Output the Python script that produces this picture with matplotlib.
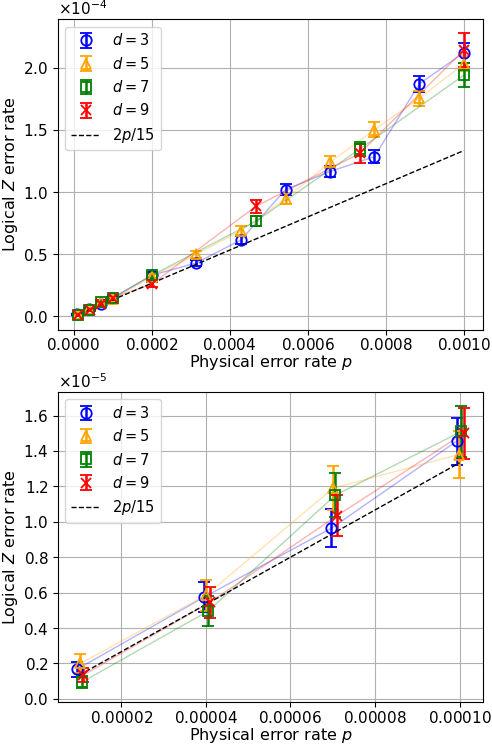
import matplotlib
matplotlib.use("Agg")
import matplotlib.pyplot as plt
import numpy as np

plt.rcParams['axes.formatter.use_mathtext'] = True
plt.rcParams['font.size'] = 11

# low-p points (slightly dodged in p per code distance)
p_low_3 = [0.96e-5, 3.96e-5, 6.97e-5, 9.93e-5]
p_low_5 = [1.03e-5, 4.00e-5, 7.01e-5, 9.98e-5]
p_low_7 = [1.07e-5, 4.05e-5, 7.06e-5, 10.04e-5]
p_low_9 = [1.10e-5, 4.10e-5, 7.10e-5, 10.10e-5]

y_low_3 = [0.168e-5, 0.575e-5, 0.964e-5, 1.455e-5]
e_low_3 = [0.042e-5, 0.083e-5, 0.109e-5, 0.133e-5]
y_low_5 = [0.200e-5, 0.585e-5, 1.190e-5, 1.380e-5]
e_low_5 = [0.054e-5, 0.087e-5, 0.125e-5, 0.130e-5]
y_low_7 = [0.095e-5, 0.495e-5, 1.150e-5, 1.510e-5]
e_low_7 = [0.035e-5, 0.085e-5, 0.125e-5, 0.144e-5]
y_low_9 = [0.134e-5, 0.546e-5, 1.034e-5, 1.500e-5]
e_low_9 = [0.040e-5, 0.088e-5, 0.115e-5, 0.143e-5]

# high-p points
p_high_35 = [2.0e-4, 3.14e-4, 4.29e-4, 5.43e-4, 6.57e-4, 7.71e-4, 8.86e-4, 1.0e-3]
p_high_79 = [2.0e-4, 4.67e-4, 7.33e-4, 1.0e-3]

y_high_3 = [0.33e-4, 0.43e-4, 0.615e-4, 1.02e-4, 1.165e-4, 1.285e-4, 1.87e-4, 2.12e-4]
e_high_3 = [0.02e-4, 0.025e-4, 0.03e-4, 0.045e-4, 0.045e-4, 0.05e-4, 0.065e-4, 0.08e-4]
y_high_5 = [0.32e-4, 0.50e-4, 0.69e-4, 0.945e-4, 1.24e-4, 1.50e-4, 1.755e-4, 2.03e-4]
e_high_5 = [0.02e-4, 0.03e-4, 0.035e-4, 0.04e-4, 0.05e-4, 0.06e-4, 0.06e-4, 0.06e-4]
y_high_7 = [0.33e-4, 0.765e-4, 1.345e-4, 1.94e-4]
e_high_7 = [0.025e-4, 0.04e-4, 0.055e-4, 0.095e-4]
y_high_9 = [0.26e-4, 0.885e-4, 1.31e-4, 2.14e-4]
e_high_9 = [0.02e-4, 0.05e-4, 0.08e-4, 0.135e-4]

p_line_top = [1e-5, 1e-3]
p_line_bot = [1e-5, 1e-4]

labels = ["$d = 3$", "$d = 5$", "$d = 7$", "$d = 9$"]
colors = ["blue", "orange", "green", "red"]
markers = ["o", "^", "s", "x"]

low = [(p_low_3, y_low_3, e_low_3), (p_low_5, y_low_5, e_low_5),
       (p_low_7, y_low_7, e_low_7), (p_low_9, y_low_9, e_low_9)]
high = [(p_high_35, y_high_3, e_high_3), (p_high_35, y_high_5, e_high_5),
        (p_high_79, y_high_7, e_high_7), (p_high_79, y_high_9, e_high_9)]

fig, (ax1, ax2) = plt.subplots(2, 1, figsize=(4.92, 7.44), dpi=100)
fig.subplots_adjust(left=0.118, right=0.982, top=0.974, bottom=0.056, hspace=0.2)


def draw(ax, series, pline):
    handles = []
    for (x, y, e), lab, c, m in zip(series, labels, colors, markers):
        ax.plot(x, y, color=c, alpha=0.3, lw=1)
        h = ax.errorbar(x, y, yerr=e, fmt=m, color=c, mfc='none', ms=7.5, mew=1.3,
                        elinewidth=1.8, capsize=4, capthick=1.8, label=lab)
        handles.append(h)
    pl = np.array(pline)
    hl, = ax.plot(pl, 2 * pl / 15, 'k--', lw=1, label="$2p/15$")
    handles.append(hl)
    ax.grid(True)
    ax.ticklabel_format(axis='y', style='sci', scilimits=(0, 0))
    ax.tick_params(axis='x', pad=2)
    ax.set_xlabel("Physical error rate $p$", fontsize=11.5, labelpad=0)
    ax.set_ylabel("Logical $Z$ error rate", fontsize=11.5, labelpad=2)
    ax.legend(handles=handles, loc='upper left', fontsize=10.5)


top_series = []
for (xl, yl, el), (xh, yh, eh) in zip(low, high):
    top_series.append((xl + xh, yl + yh, el + eh))

draw(ax1, top_series, p_line_top)
draw(ax2, low, p_line_bot)

plt.savefig("out.png")
